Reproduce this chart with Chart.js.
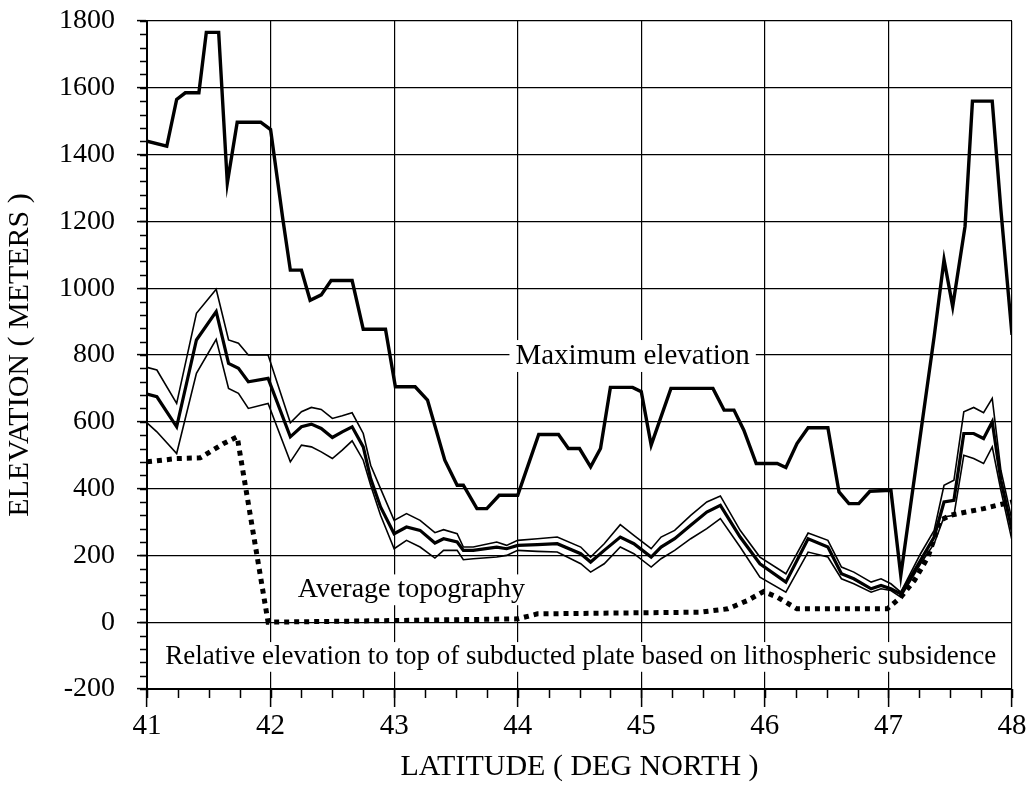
<!DOCTYPE html>
<html>
<head>
<meta charset="utf-8">
<script src="https://cdn.jsdelivr.net/npm/chart.js@4/dist/chart.umd.min.js"></script>
<style>
  html, body { margin: 0; padding: 0; background: #fff; }
  #wrap { width: 1027px; height: 785px; }
</style>
</head>
<body>
<div id="wrap"><canvas id="chart" width="1027" height="785"></canvas></div>
<script>
// Axis ticks
const latTicks = [41, 42, 43, 44, 45, 46, 47, 48];
const elevTicks = [-200, 0, 200, 400, 600, 800, 1000, 1200, 1400, 1600, 1800];

// Maximum elevation
const latMax = [41.0, 41.16, 41.24, 41.31, 41.42, 41.48, 41.58, 41.65, 41.73, 41.92, 42.0, 42.10, 42.16, 42.25, 42.32, 42.41, 42.49, 42.66, 42.75, 42.93,
	43.01, 43.17, 43.27, 43.41, 43.51, 43.56, 43.67, 43.75, 43.85, 44.0, 44.17, 44.33, 44.41, 44.50, 44.59, 44.67, 44.75, 44.93, 45.0, 45.08,
	45.24, 45.58, 45.67, 45.75, 45.83, 45.93, 46.10, 46.17, 46.26, 46.35, 46.51, 46.60, 46.68, 46.76, 46.85, 47.02, 47.10, 47.37, 47.45, 47.52,
	47.62, 47.68, 47.84, 47.91, 48.0];
const elevMax = [1440, 1425, 1565, 1585, 1585, 1766, 1766, 1315, 1497, 1497, 1475, 1205, 1054, 1054, 964, 980, 1023, 1023, 877, 877,
	705, 705, 665, 485, 410, 410, 340, 340, 380, 380, 562, 562, 520, 520, 465, 520, 703, 703, 690, 530,
	700, 700, 635, 635, 575, 475, 475, 463, 535, 582, 582, 390, 355, 355, 392, 395, 140, 855, 1085, 945,
	1185, 1560, 1560, 1235, 860];

// Average topography (middle) with upper / lower envelope
const latAvg = [41.0, 41.08, 41.24, 41.40, 41.56, 41.66, 41.74, 41.82, 41.98, 42.16, 42.25, 42.33, 42.41, 42.50, 42.58, 42.66, 42.75, 42.81, 42.89, 43.0,
	43.1, 43.21, 43.33, 43.40, 43.51, 43.56, 43.64, 43.83, 43.91, 44.0, 44.16, 44.32, 44.51, 44.59, 44.70, 44.83, 44.94, 45.08, 45.16, 45.27,
	45.40, 45.53, 45.64, 45.80, 45.96, 46.17, 46.35, 46.51, 46.62, 46.72, 46.86, 46.94, 47.02, 47.10, 47.26, 47.37, 47.45, 47.53, 47.61, 47.69,
	47.77, 47.84, 47.91, 48.0];
const avgUpper = [763, 755, 655, 925, 997, 845, 835, 800, 800, 597, 630, 643, 637, 610, 618, 627, 565, 470, 400, 305,
	325, 305, 268, 277, 265, 225, 225, 240, 230, 245, 250, 255, 225, 195, 235, 292, 260, 220, 255, 275,
	320, 360, 378, 275, 195, 145, 267, 245, 165, 150, 120, 130, 115, 90, 205, 275, 410, 425, 630, 643,
	627, 670, 455, 305];
const avgMid = [683, 675, 585, 845, 930, 775, 760, 720, 730, 555, 585, 593, 580, 553, 570, 585, 525, 430, 345, 265,
	285, 275, 237, 250, 240, 215, 215, 225, 220, 230, 232, 235, 205, 180, 215, 255, 235, 195, 225, 250,
	290, 330, 350, 255, 175, 120, 250, 225, 145, 130, 100, 110, 100, 85, 185, 255, 360, 365, 565, 565,
	550, 600, 425, 275];
const avgLower = [597, 570, 505, 745, 847, 700, 685, 640, 655, 480, 530, 525, 510, 490, 515, 543, 485, 410, 320, 220,
	245, 225, 192, 215, 215, 187, 190, 195, 200, 215, 212, 210, 175, 150, 175, 225, 205, 165, 190, 215,
	250, 280, 310, 225, 135, 90, 210, 195, 130, 115, 90, 100, 95, 75, 175, 235, 315, 320, 500, 490,
	475, 525, 395, 245];

// Relative elevation to top of subducted plate
const latPlate = [41.0, 41.24, 41.43, 41.62, 41.73, 41.98, 43.0, 44.0, 44.16, 45.48, 45.70, 45.86, 45.99, 46.10, 46.26, 46.99, 47.10, 47.21, 47.32, 47.42,
	47.50, 47.63, 47.77, 47.88, 48.0];
const elevPlate = [480, 490, 492, 535, 555, 0, 5, 10, 25, 30, 40, 65, 92, 75, 40, 40, 75, 125, 195, 305,
	320, 330, 340, 350, 360];

const labels = [
	{ text: 'Maximum elevation', lat: 44.93, elev: 797, size: 29 },
	{ text: 'Average topography', lat: 43.14, elev: 97, size: 28 },
	{ text: 'Relative elevation to top of subducted plate based on lithospheric subsidence', lat: 44.51, elev: -104, size: 27 },
];

const SERIF = '"Liberation Serif", "DejaVu Serif", serif';
const pts = ( xs, ys ) => xs.slice( 0, Math.min( xs.length, ys.length ) ).map( ( x, i ) => ( { x, y: ys[ i ] } ) );

const line = ( data, width, dash ) => ( {
	data,
	borderColor: '#000',
	borderWidth: width,
	borderDash: dash || [],
	borderCapStyle: 'butt',
	borderJoinStyle: 'miter',
	pointRadius: 0,
	tension: 0,
	fill: false,
} );

// minor ticks + text labels, drawn over the grid but under the lines
const decor = {
	id: 'decor',
	beforeDatasetsDraw( chart ) {
		const { ctx, chartArea: a, scales: { x, y } } = chart;
		ctx.save();
		ctx.strokeStyle = '#000';
		ctx.lineWidth = 1.5;
		ctx.beginPath();
		for ( let v = 41; v <= 48.001; v += 0.25 ) {
			const px = Math.round( x.getPixelForValue( v ) ) + 0.5;
			ctx.moveTo( px, a.bottom );
			ctx.lineTo( px, a.bottom + 9 );
		}
		for ( let v = -200; v <= 1800; v += 40 ) {
			const py = Math.round( y.getPixelForValue( v ) ) + 0.5;
			ctx.moveTo( a.left - 7, py );
			ctx.lineTo( a.left, py );
		}
		ctx.stroke();

		ctx.textAlign = 'center';
		ctx.textBaseline = 'middle';
		labels.forEach( ( l ) => {
			ctx.font = l.size + 'px ' + SERIF;
			const w = ctx.measureText( l.text ).width;
			const cx = x.getPixelForValue( l.lat );
			const cy = y.getPixelForValue( l.elev );
			ctx.fillStyle = '#fff';
			ctx.fillRect( cx - w / 2 - 6, cy - l.size * 0.55, w + 12, l.size * 1.1 );
			ctx.fillStyle = '#000';
			ctx.fillText( l.text, cx, cy );
		} );
		ctx.restore();
	},
};

new Chart( document.getElementById( 'chart' ), {
	type: 'line',
	data: {
		datasets: [
			line( pts( latPlate, elevPlate ), 5, [ 5, 5 ] ),
			line( pts( latAvg, avgUpper ), 1.6 ),
			line( pts( latAvg, avgLower ), 1.6 ),
			line( pts( latAvg, avgMid ), 3.2 ),
			line( pts( latMax, elevMax ), 3.4 ),
		],
	},
	options: {
		responsive: false,
		animation: false,
		events: [],
		layout: { padding: 0 },
		plugins: { legend: { display: false }, tooltip: { enabled: false } },
		scales: {
			x: {
				type: 'linear',
				min: 41,
				max: 48,
				afterBuildTicks: ( s ) => { s.ticks = latTicks.map( ( v ) => ( { value: v } ) ); },
				afterFit: ( s ) => { s.height = 96; s.paddingRight = 15; },
				ticks: { color: '#000', font: { family: SERIF, size: 29 }, padding: 2, maxRotation: 0, callback: ( v ) => String( v ) },
				grid: { color: '#000', lineWidth: 1.2, tickLength: 18, tickColor: '#000', tickWidth: 1.5 },
				border: { color: '#000', width: 2 },
				title: { display: true, text: 'LATITUDE ( DEG NORTH )', color: '#000', font: { family: SERIF, size: 30 }, padding: 0 },
			},
			y: {
				type: 'linear',
				min: -200,
				max: 1800,
				afterBuildTicks: ( s ) => { s.ticks = elevTicks.map( ( v ) => ( { value: v } ) ); },
				afterFit: ( s ) => { s.width = 147; s.paddingTop = 21; s.paddingBottom = 17; },
				ticks: { color: '#000', font: { family: SERIF, size: 28 }, padding: 22, callback: ( v ) => String( v ) },
				grid: { color: '#000', lineWidth: 1.2, tickLength: 10, tickColor: '#000', tickWidth: 1.5 },
				border: { color: '#000', width: 2 },
				title: { display: true, text: 'ELEVATION ( METERS )', color: '#000', font: { family: SERIF, size: 30 }, padding: { top: 2, bottom: 0 } },
			},
		},
	},
	plugins: [ decor ],
} );
</script>
</body>
</html>
